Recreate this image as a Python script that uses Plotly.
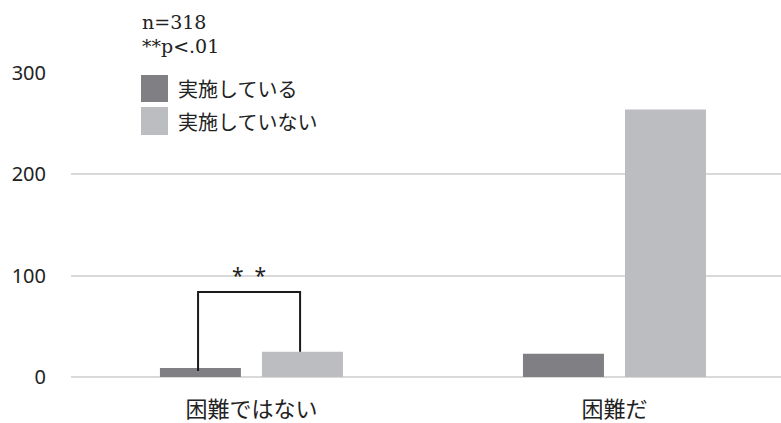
import plotly.graph_objects as go

categories = ["困難ではない", "困難だ"]
series_names = ["実施している", "実施していない"]
implemented = [9, 23]
not_implemented = [25, 264]
colors = ["#808084", "#bcbdc0"]
y_ticks = [0, 100, 200, 300]
note_lines = ["n=318", "**p<.01"]
sig_label = "*  *"
bracket_top = 84
bracket_left_bottom = 6
bracket_right_bottom = 25

W, H = 781, 423
ML, MR, MT, MB = 71, 0, 73, 46
PW, PH = W - ML - MR, H - MT - MB

def px_x(px):
    return (px - ML) / PW

def px_y(py):
    return (H - MB - py) / PH

xpos = list(range(len(categories)))

fig = go.Figure()
fig.add_trace(go.Bar(x=xpos, y=implemented, name=series_names[0],
                     marker=dict(color=colors[0], line=dict(width=0)), showlegend=False))
fig.add_trace(go.Bar(x=xpos, y=not_implemented, name=series_names[1],
                     marker=dict(color=colors[1], line=dict(width=0)), showlegend=False))

shapes = []
# significance bracket between the two bars of the first category
xl = xpos[0] - 0.147
xr = xpos[0] + 0.134
shapes.append(dict(type="path", xref="x", yref="y",
                   path=f"M {xl},{bracket_left_bottom} L {xl},{bracket_top} L {xr},{bracket_top} L {xr},{bracket_right_bottom}",
                   line=dict(color="#1a1a1a", width=2)))

# manual legend
annotations = []
leg_rows = [(75, 102), (107, 135)]
for (y0, y1), name, c in zip(leg_rows, series_names, colors):
    shapes.append(dict(type="rect", xref="paper", yref="paper",
                       x0=px_x(141), x1=px_x(168), y0=px_y(y1), y1=px_y(y0),
                       fillcolor=c, line=dict(width=0)))
    annotations.append(dict(text=name, xref="paper", yref="paper",
                            x=px_x(176), y=px_y((y0 + y1) / 2), xanchor="left", yanchor="middle",
                            showarrow=False,
                            font=dict(family="Noto Sans CJK JP", size=20, color="#222222")))

for text, cy in zip(note_lines, [22, 46]):
    annotations.append(dict(text=text, xref="paper", yref="paper",
                            x=px_x(140), y=px_y(cy), xanchor="left", yanchor="middle",
                            showarrow=False,
                            font=dict(family="DejaVu Serif", size=19, color="#222222")))

annotations.append(dict(text=sig_label, xref="x", yref="y",
                        x=(xl + xr) / 2, y=101, xanchor="center", yanchor="middle",
                        showarrow=False,
                        font=dict(family="Noto Sans", size=21, color="#222222")))

fig.update_layout(
    width=W, height=H,
    margin=dict(l=ML, r=MR, t=MT, b=MB, pad=0),
    paper_bgcolor="white", plot_bgcolor="white",
    barmode="group", bargap=0.438, bargroupgap=0.206,
    shapes=shapes, annotations=annotations,
    xaxis=dict(tickvals=xpos, ticktext=categories, range=[-0.497, 1.4587],
               showgrid=False, zeroline=False, showline=False, ticks="",
               ticklabelstandoff=17,
               tickfont=dict(family="Noto Sans CJK JP", size=22, color="#222222")),
    yaxis=dict(range=[0, 300], tickvals=y_ticks, showgrid=True, gridcolor="#d9d9d9",
               gridwidth=2, zeroline=True, zerolinecolor="#d9d9d9", zerolinewidth=2,
               showline=False, ticks="", ticklabelstandoff=24,
               tickfont=dict(family="Noto Sans", size=20, color="#222222")),
)

fig.write_html("out.html")
